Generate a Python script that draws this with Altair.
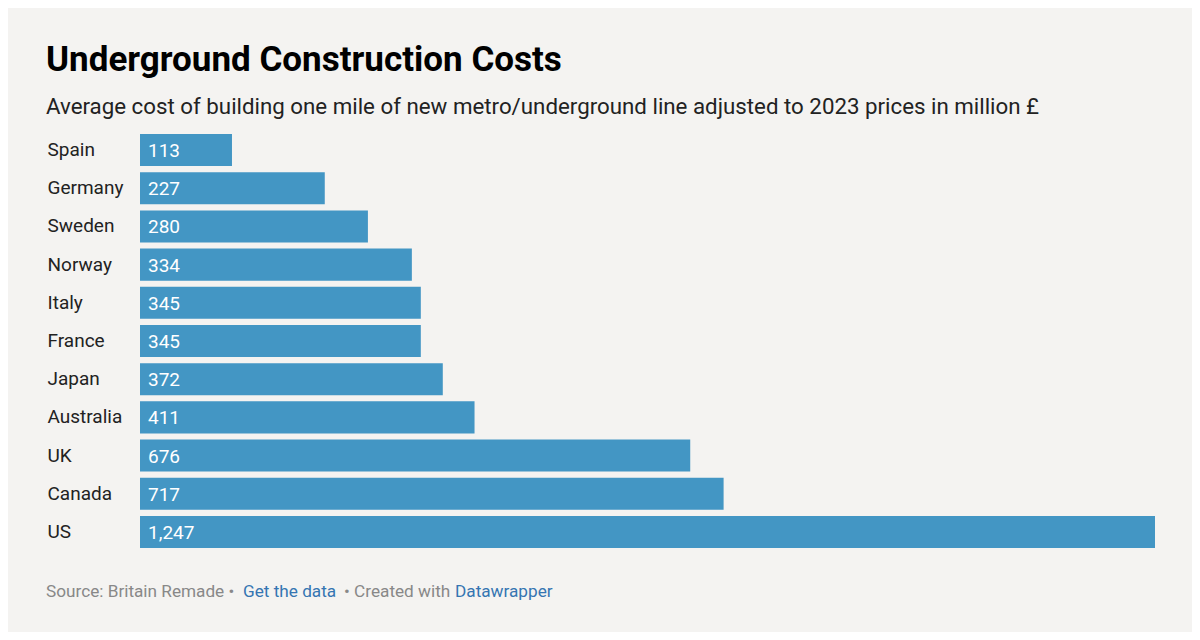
import altair as alt
import pandas as pd

countries = ["Spain", "Germany", "Sweden", "Norway", "Italy", "France",
             "Japan", "Australia", "UK", "Canada", "US"]
costs = [113, 227, 280, 334, 345, 345, 372, 411, 676, 717, 1247]
value_labels = ["113", "227", "280", "334", "345", "345", "372", "411", "676", "717", "1,247"]

title_text = "Underground Construction Costs"
subtitle_text = "Average cost of building one mile of new metro/underground line adjusted to 2023 prices in million £"
footer_parts = ["Source: Britain Remade \u2022", "Get the data", "\u2022 Created with", "Datawrapper"]

df = pd.DataFrame({"country": countries, "cost": costs, "label": value_labels})

FONT = "Roboto"
BAR = "#4396c4"
BG = "#f4f3f1"
W, H = 1015, 414

y_enc = alt.Y("country:N", sort=countries, title=None,
              scale=alt.Scale(paddingInner=0.16, paddingOuter=0),
              axis=alt.Axis(labelAlign="left", labelPadding=93, labelFontSize=19,
                            labelFont=FONT, labelColor="#222222", domain=False,
                            ticks=False, labelBaseline="middle"))
x_scale = alt.Scale(domain=[0, 1247], nice=False, zero=True)

bars = alt.Chart(df).mark_bar(color=BAR).encode(
    x=alt.X("cost:Q", scale=x_scale, axis=None),
    y=y_enc,
)

vals = alt.Chart(df).mark_text(align="left", baseline="middle", dx=8, dy=1, color="white",
                               fontSize=19, font=FONT).encode(
    x=alt.datum(0, scale=x_scale),
    y=alt.Y("country:N", sort=countries),
    text="label:N",
)

footer_y = 463
grey = "#888888"
blue = "#3575b2"
fx = [-94, 103, 204, 315]
fcols = [grey, blue, grey, blue]
footer_layers = []
for txt, xpos, col in zip(footer_parts, fx, fcols):
    footer_layers.append(
        alt.Chart(pd.DataFrame({"t": [txt]})).mark_text(
            align="left", baseline="alphabetic", fontSize=17.2, font=FONT, color=col
        ).encode(x=alt.value(xpos), y=alt.value(footer_y), text="t:N")
    )

chart = alt.layer(bars, vals, *footer_layers).properties(
    width=W, height=H,
    autosize=alt.AutoSizeParams(type="none"),
    padding={"left": 132, "top": 126, "right": 37, "bottom": 84},
    background=BG,
    title=alt.TitleParams(
        text=title_text, subtitle=subtitle_text, anchor="start", frame="group",
        dx=-94, offset=16, font=FONT, fontSize=35, fontWeight="bold", color="#000000",
        subtitleFont=FONT, subtitleFontSize=22.3, subtitleColor="#222222",
        subtitlePadding=18,
    ),
).configure_view(stroke=None)

chart.save("out.html", embed_options={"renderer": "svg", "actions": False})
